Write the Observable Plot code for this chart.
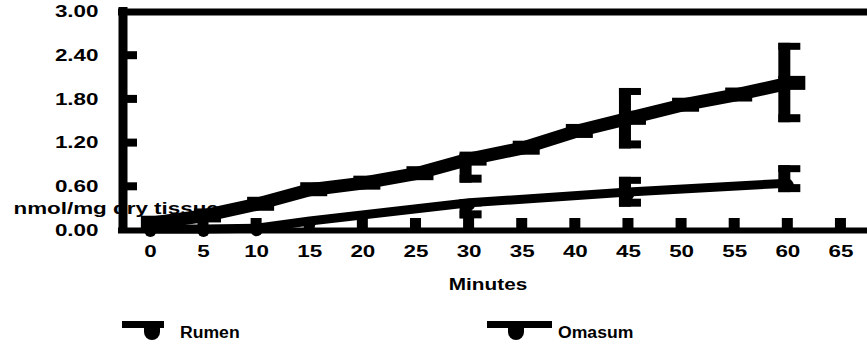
<!DOCTYPE html>
<html>
<head>
<meta charset="utf-8">
<script src="https://cdn.jsdelivr.net/npm/d3@7"></script>
<script src="https://cdn.jsdelivr.net/npm/@observablehq/plot@0.6"></script>
<style>
  body { margin: 0; background: #fff; font-family: "Liberation Sans", Arial, sans-serif; }
  #legend { position: relative; width: 867px; height: 44px; }
  #legend .item { position: absolute; top: 0; height: 44px; }
  #legend svg { position: absolute; top: 16px; left: 0; }
  #legend span {
    position: absolute; top: 19px; white-space: nowrap;
    font-weight: bold; font-size: 16px; color: #000;
    transform: scaleX(1.1); transform-origin: left center;
  }
</style>
</head>
<body>
<div id="chart"></div>
<div id="legend"></div>
<script>
// Sampling times (minutes) and mean values, nmol/mg dry tissue
const omasumMinutes = [0, 5, 10, 15, 20, 25, 30, 35, 40, 45, 50, 55, 60];
const omasumValues  = [0.10, 0.20, 0.36, 0.56, 0.65, 0.78, 0.98, 1.13, 1.36, 1.54, 1.72, 1.86, 2.02];
const rumenMinutes  = [0, 5, 10, 15, 30, 45, 60];
const rumenValues   = [0.02, 0.02, 0.03, 0.13, 0.38, 0.53, 0.65];

// Error bounds
const omasumErrMinutes = [30, 45, 60];
const omasumLow  = [0.65, 1.12, 1.48];
const omasumHigh = [1.05, 1.95, 2.57];
const rumenErrMinutes = [30, 45, 60];
const rumenLow  = [0.16, 0.32, 0.52];
const rumenHigh = [0.42, 0.73, 0.89];

const seriesNames = ["Rumen", "Omasum"];
const xTicks = [0, 5, 10, 15, 20, 25, 30, 35, 40, 45, 50, 55, 60, 65];
const yTicks = [0, 0.6, 1.2, 1.8, 2.4, 3.0];
const xTitle = "Minutes";
const yTitle = "nmol/mg dry tissue";

const xDomain = [-3, 67.5];
const yDomain = [0, 3];

const omasum = omasumMinutes.map((t, i) => ({t, v: omasumValues[i]}));
const rumen = rumenMinutes.map((t, i) => ({t, v: rumenValues[i]}));
const omasumErr = omasumErrMinutes.map((t, i) => ({t, lo: omasumLow[i], hi: omasumHigh[i]}));
const rumenErr = rumenErrMinutes.map((t, i) => ({t, lo: rumenLow[i], hi: rumenHigh[i]}));
const errAll = omasumErr.concat(rumenErr);

const bold = {fontSize: 16, fontWeight: "bold", fill: "#000"};

const chart = Plot.plot({
  width: 867,
  height: 305,
  marginLeft: 118,
  marginRight: 0,
  marginTop: 11.5,
  marginBottom: 75,
  x: {domain: xDomain},
  y: {domain: yDomain},
  style: {fontFamily: "Liberation Sans, Arial, sans-serif", color: "#000", background: "#fff", overflow: "visible"},
  marks: [
    // y title sits underneath the axis and the data
    Plot.text([yTitle], {text: d => d, frameAnchor: "bottom-left", dx: -105, dy: -17, textAnchor: "start", ...bold}),
    Plot.axisY(yTicks, {tickSize: 0, tickPadding: 20, tickFormat: d => d.toFixed(2), label: null, ...bold}),
    Plot.axisX(xTicks, {tickSize: 0, tickPadding: 15, label: null, ...bold}),
    Plot.text([xTitle], {text: d => d, frameAnchor: "bottom", dx: -5, dy: 59, ...bold}),

    // heavy frame lines
    Plot.ruleY([yDomain[1]], {stroke: "#000", strokeWidth: 7}),
    Plot.ruleY([yDomain[0]], {stroke: "#000", strokeWidth: 6}),
    Plot.ruleX([xDomain[0]], {stroke: "#000", strokeWidth: 9, dx: 4.5, insetTop: -4.5, insetBottom: -3}),

    // tick stubs
    Plot.rect(yTicks.filter(d => d > yDomain[0] && d < yDomain[1]), {
      x1: xDomain[0], x2: xDomain[0], y1: d => d, y2: d => d,
      insetLeft: 1, insetRight: -19, insetTop: -4, insetBottom: -4, fill: "#000"
    }),
    Plot.rect(xTicks, {
      x1: d => d, x2: d => d, y1: yDomain[0], y2: yDomain[0],
      insetLeft: -5.5, insetRight: -5.5, insetTop: -12, insetBottom: 0, fill: "#000"
    }),

    // Omasum: heavy band with flat steps at each sample
    Plot.line(omasum, {x: "t", y: "v", stroke: "#000", strokeWidth: 13, strokeLinejoin: "miter"}),
    Plot.rect(omasum, {
      x1: "t", x2: "t", y1: "v", y2: "v",
      insetLeft: -9, insetRight: -18, insetTop: -7, insetBottom: -7, fill: "#000"
    }),

    // Rumen: line with round markers
    Plot.line(rumen, {x: "t", y: "v", stroke: "#000", strokeWidth: 9}),
    Plot.dot(rumen, {x: "t", y: "v", r: 6, fill: "#000", dy: 2}),

    // error bars: bar plus caps
    Plot.rect(errAll, {x1: "t", x2: "t", y1: "lo", y2: "hi", insetLeft: -9, insetRight: -3, fill: "#000"}),
    Plot.rect(errAll, {x1: "t", x2: "t", y1: "hi", y2: "hi", insetLeft: -9, insetRight: -13, insetTop: 0, insetBottom: -7, fill: "#000"}),
    Plot.rect(errAll, {x1: "t", x2: "t", y1: "lo", y2: "lo", insetLeft: -9, insetRight: -13, insetTop: -8, insetBottom: 0, fill: "#000"})
  ]
});

document.getElementById("chart").append(chart);

// widen the lettering horizontally
const svgEl = chart.tagName.toLowerCase() === "svg" ? chart : chart.querySelector("svg");
svgEl.querySelectorAll("text").forEach(t => {
  const k = t.textContent === xTitle ? 1.3 : 1.4;
  const tr = t.getAttribute("transform");
  if (tr) {
    t.setAttribute("transform", tr + ` scale(${k},1)`);
  } else {
    const x = +t.getAttribute("x") || 0, y = +t.getAttribute("y") || 0;
    t.removeAttribute("x"); t.removeAttribute("y");
    t.setAttribute("transform", `translate(${x},${y}) scale(${k},1)`);
  }
});

// legend: bar plus cup-shaped marker, then the series name
const legendLayout = [
  {left: 122, bar: 42, mark: 22, text: 58},
  {left: 487, bar: 65, mark: 21, text: 71}
];
const legend = d3.select("#legend");
seriesNames.forEach((name, i) => {
  const L = legendLayout[i];
  const item = legend.append("div").attr("class", "item").style("left", L.left + "px");
  const s = item.append("svg").attr("width", L.bar).attr("height", 24);
  s.append("rect").attr("x", 0).attr("y", 0).attr("width", L.bar).attr("height", 7).attr("fill", "#000");
  s.append("path")
    .attr("d", `M${L.mark},6 h16 v5 a8,8 0 0 1 -16,0 Z`)
    .attr("fill", "#000");
  item.append("span").style("left", L.text + "px").text(name);
});
</script>
</body>
</html>
